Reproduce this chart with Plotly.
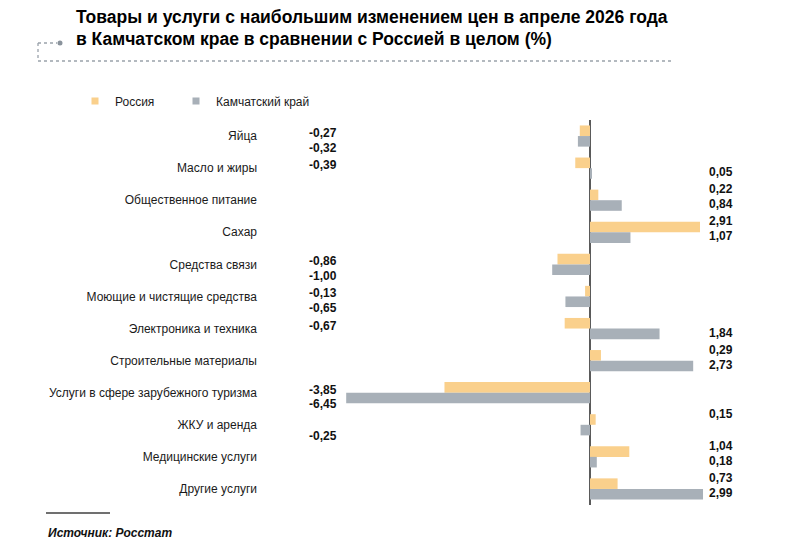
import plotly.graph_objects as go

# data
categories = [
    "Яйца",
    "Масло и жиры",
    "Общественное питание",
    "Сахар",
    "Средства связи",
    "Моющие и чистящие средства",
    "Электроника и техника",
    "Строительные материалы",
    "Услуги в сфере зарубежного туризма",
    "ЖКУ и аренда",
    "Медицинские услуги",
    "Другие услуги",
]
russia = [-0.27, -0.39, 0.22, 2.91, -0.86, -0.13, -0.67, 0.29, -3.85, 0.15, 1.04, 0.73]
kamchatka = [-0.32, 0.05, 0.84, 1.07, -1.00, -0.65, 1.84, 2.73, -6.45, -0.25, 0.18, 2.99]

ORANGE = '#FAD08C'
GREY = '#A8B0B8'
FONT = 'Liberation Sans, Arial, sans-serif'

# the page body has an 8px margin, so the figure is drawn 8px smaller
# and all positions below are given in window pixels
OFF = 8
W, H = 791 - OFF, 542 - OFF
L, R, T, B = 262, 760, 120, 505  # plot area in window pixels


def px(x):
    return (x - L) / (R - L)


def py(y):
    return (B - y) / (B - T)


fig = go.Figure()

fig.add_trace(go.Bar(y=categories, x=russia, orientation='h', name='Россия',
                     marker=dict(color=ORANGE, line=dict(width=0)),
                     legendgroup='ru', showlegend=False, hoverinfo='x'))
fig.add_trace(go.Bar(y=categories, x=kamchatka, orientation='h', name='Камчатский край',
                     marker=dict(color=GREY, line=dict(width=0)),
                     legendgroup='kam', showlegend=False, hoverinfo='x'))

# small square legend markers, one legend each so they sit where the original has them
fig.add_trace(go.Scatter(x=[None], y=[None], mode='markers', name='Россия',
                         marker=dict(symbol='square', size=7, color=ORANGE),
                         legendgroup='ru', legend='legend'))
fig.add_trace(go.Scatter(x=[None], y=[None], mode='markers', name='Камчатский край',
                         marker=dict(symbol='square', size=7, color=GREY),
                         legendgroup='kam', legend='legend2'))


def fmt(v):
    return f"{v:.2f}".replace('.', ',')


# value labels: negatives in a column on the left, positives on the right
annotations = []
for series, shifts in ((russia, (11, 3)), (kamchatka, (-4, -11.5))):
    for cat, v in zip(categories, series):
        annotations.append(dict(
            x=px(339) if v < 0 else px(735), xref='paper', xanchor='right',
            y=cat, yref='y', yshift=shifts[0] if v >= 0 else shifts[1],
            text=f"<b>{fmt(v)}</b>", showarrow=False,
            font=dict(family=FONT, size=12, color='#111111'),
        ))

annotations.append(dict(
    x=px(46), xref='paper', xanchor='left', y=py(533), yref='paper', yanchor='middle',
    text='<b><i>Источник: Росстат</i></b>', showarrow=False,
    font=dict(family=FONT, size=12, color='#111111'),
))

dot = dict(color='#9AA2AB', width=1.3, dash='dot')
shapes = [
    dict(type='line', xref='paper', yref='paper', x0=px(38), x1=px(57), y0=py(43), y1=py(43), line=dot),
    dict(type='line', xref='paper', yref='paper', x0=px(38), x1=px(38), y0=py(43), y1=py(61), line=dot),
    dict(type='line', xref='paper', yref='paper', x0=px(38), x1=px(673), y0=py(61), y1=py(61), line=dot),
    dict(type='circle', xref='paper', yref='paper', x0=px(57.5), x1=px(62.5), y0=py(40.5), y1=py(45.5),
         fillcolor='#8A939C', line=dict(width=0)),
    dict(type='line', xref='paper', yref='paper', x0=px(46), x1=px(110), y0=py(513), y1=py(513),
         line=dict(color='#404040', width=1.5)),
]

legend_style = dict(orientation='h', xanchor='left', y=py(101), yanchor='middle',
                    font=dict(family=FONT, size=12, color='#1a1a1a'),
                    itemwidth=30, bgcolor='rgba(0,0,0,0)')

fig.update_layout(
    width=W, height=H,
    margin=dict(l=L - OFF, r=W - (R - OFF), t=T - OFF, b=H - (B - OFF), pad=0),
    paper_bgcolor='white', plot_bgcolor='white',
    font=dict(family=FONT, size=12, color='#1a1a1a'),
    title=dict(
        text='<b>Товары и услуги с наибольшим изменением цен в апреле 2026 года<br>'
             'в Камчатском крае в сравнении с Россией в целом (%)</b>',
        x=(76 - OFF) / W, xref='container', xanchor='left',
        y=1 - 14.5 / H, yref='container', yanchor='top',
        font=dict(family=FONT, size=17.5, color='#000000'),
    ),
    barmode='group', bargap=0.34, bargroupgap=0,
    showlegend=True,
    legend=dict(legend_style, x=px(75)),
    legend2=dict(legend_style, x=px(176)),
    xaxis=dict(range=[-(590 - L) / 37.8, (R - 590) / 37.8], showticklabels=False,
               showgrid=False, zeroline=True, zerolinecolor='#5A5A5A', zerolinewidth=1.5,
               showline=False, ticks=''),
    yaxis=dict(range=[len(categories) - 0.5, -0.5], showgrid=False, zeroline=False,
               showline=False, ticks='', ticklabelstandoff=4,
               tickfont=dict(family=FONT, size=12, color='#1a1a1a')),
    annotations=annotations,
    shapes=shapes,
)

fig.write_html("out.html")
